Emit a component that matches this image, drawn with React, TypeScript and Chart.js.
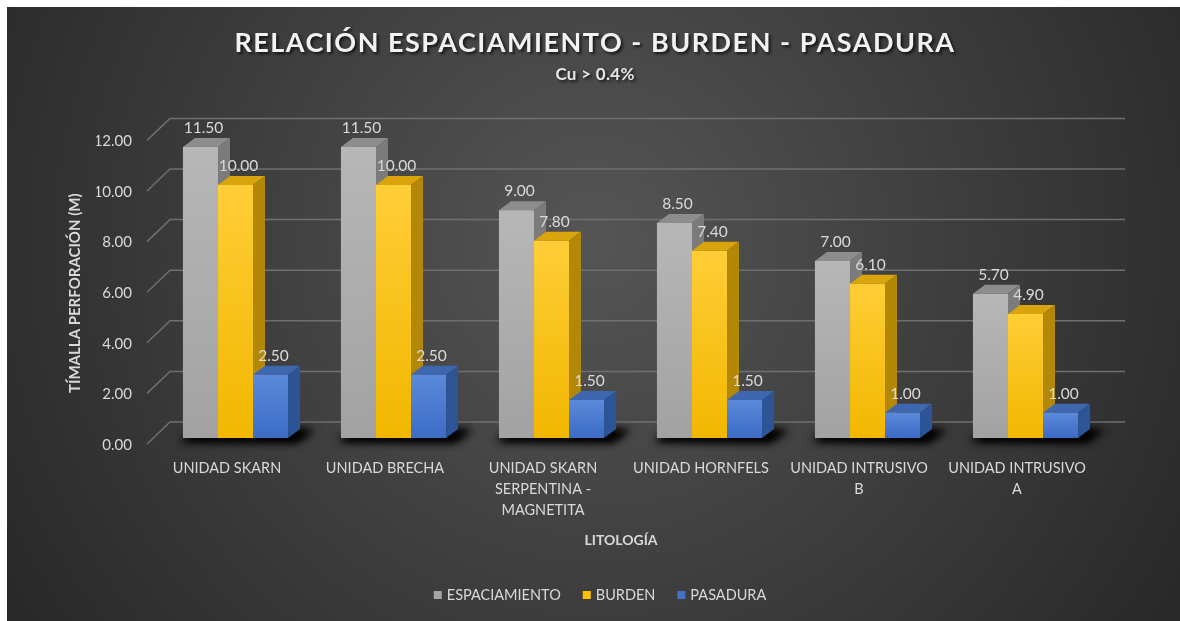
import React, { useEffect, useRef } from 'react';
import { Chart, registerables } from 'chart.js';

Chart.register(...registerables);

// ---------- data ----------
const categories: string[][] = [
  ['UNIDAD SKARN'],
  ['UNIDAD BRECHA'],
  ['UNIDAD SKARN', 'SERPENTINA -', 'MAGNETITA'],
  ['UNIDAD HORNFELS'],
  ['UNIDAD INTRUSIVO', 'B'],
  ['UNIDAD INTRUSIVO', 'A'],
];
const espaciamiento = [11.5, 11.5, 9.0, 8.5, 7.0, 5.7];
const burden = [10.0, 10.0, 7.8, 7.4, 6.1, 4.9];
const pasadura = [2.5, 2.5, 1.5, 1.5, 1.0, 1.0];
const seriesNames = ['ESPACIAMIENTO', 'BURDEN', 'PASADURA'];
const yTicks = [0, 2, 4, 6, 8, 10, 12];

const TITLE = 'RELACIÓN ESPACIAMIENTO - BURDEN - PASADURA';
const SUBTITLE = 'Cu > 0.4%';
const Y_TITLE = 'TÍMALLA PERFORACIÓN (M)';
const X_TITLE = 'LITOLOGÍA';

// ---------- styles ----------
const FONT = 'Lato, "Open Sans", sans-serif';
const TEXT = '#d9d9d9';
const palettes = [
  { base: '#a6a6a6', frontTop: '#b7b7b7', frontBottom: '#a2a2a2', top: '#8d8d8d', side: '#7b7b7b' },
  { base: '#ffc000', frontTop: '#ffcd36', frontBottom: '#f2b700', top: '#d9a40c', side: '#b38806' },
  { base: '#4472c4', frontTop: '#5b8ad9', frontBottom: '#3b6bc6', top: '#3f67b0', side: '#2d5497' },
];
const G = {
  barDX: 12, barDY: -9,
  wallDX: 13.5, wallDY: -16,
  frontDX: -9.5, frontDY: 6,
  wallRightExtra: 20.5,
};

const seriesData = [espaciamiento, burden, pasadura];

const excel3d = {
  id: 'excel3d',
  beforeDraw(chart: any) {
    const { ctx, width, height } = chart;
    ctx.save();
    const cx = width * 0.5, cy = height * 0.38;
    const g = ctx.createRadialGradient(cx, cy, 0, cx, cy, width * 0.62);
    g.addColorStop(0, '#555555');
    g.addColorStop(1, '#262626');
    ctx.fillStyle = g;
    ctx.fillRect(0, 0, width, height);
    ctx.restore();
  },
  beforeDatasetsDraw(chart: any) {
    const { ctx, chartArea: a } = chart;
    const y = chart.scales.y;
    ctx.save();
    ctx.strokeStyle = '#6f6f6f';
    ctx.lineWidth = 1.5;
    for (const v of yTicks) {
      const py = y.getPixelForValue(v);
      ctx.beginPath();
      ctx.moveTo(a.left + G.frontDX, py + G.frontDY);
      ctx.lineTo(a.left + G.wallDX, py + G.wallDY);
      ctx.lineTo(a.right + G.wallRightExtra, py + G.wallDY);
      ctx.stroke();
    }
    // soft floor shadows (only the blurred shadow is visible)
    const m0 = chart.getDatasetMeta(0).data;
    const m2 = chart.getDatasetMeta(2).data;
    const SHIFT = 5000;
    for (let j = 0; j < m0.length; j++) {
      const e0 = m0[j], e2 = m2[j];
      const L = e0.x - e0.width / 2;
      const R = e2.x + e2.width / 2;
      const b = e0.base;
      ctx.save();
      ctx.shadowColor = 'rgba(0,0,0,0.95)';
      ctx.shadowBlur = 9;
      ctx.shadowOffsetX = SHIFT;
      ctx.fillStyle = '#000';
      ctx.beginPath();
      ctx.moveTo(L - 2 - SHIFT, b + 3);
      ctx.lineTo(R + 8 - SHIFT, b + 4);
      ctx.lineTo(R + G.barDX + 14 - SHIFT, b + G.barDY + 1);
      ctx.lineTo(L + G.barDX - SHIFT, b + G.barDY + 1);
      ctx.closePath();
      ctx.fill();
      ctx.fill();
      ctx.restore();
    }
    ctx.restore();
  },
  afterDatasetsDraw(chart: any) {
    const { ctx } = chart;
    const metas = [0, 1, 2].map((i) => chart.getDatasetMeta(i).data);
    ctx.save();
    const n = metas[0].length;
    for (let j = 0; j < n; j++) {
      for (let i = 0; i < 3; i++) {
        const e = metas[i][j];
        const p = palettes[i];
        const l = e.x - e.width / 2, r = e.x + e.width / 2, t = e.y, b = e.base;
        const dx = G.barDX, dy = G.barDY;
        // front
        const fg = ctx.createLinearGradient(0, t, 0, b);
        fg.addColorStop(0, p.frontTop);
        fg.addColorStop(1, p.frontBottom);
        ctx.fillStyle = fg;
        ctx.fillRect(l, t, r - l, b - t);
        // top
        ctx.fillStyle = p.top;
        ctx.beginPath();
        ctx.moveTo(l, t);
        ctx.lineTo(r, t);
        ctx.lineTo(r + dx, t + dy);
        ctx.lineTo(l + dx, t + dy);
        ctx.closePath();
        ctx.fill();
        // side
        ctx.fillStyle = p.side;
        ctx.beginPath();
        ctx.moveTo(r, t);
        ctx.lineTo(r + dx, t + dy);
        ctx.lineTo(r + dx, b + dy);
        ctx.lineTo(r, b);
        ctx.closePath();
        ctx.fill();
      }
    }
    // data labels
    ctx.fillStyle = TEXT;
    ctx.font = `15.5px ${FONT}`;
    ctx.textAlign = 'center';
    ctx.textBaseline = 'middle';
    for (let i = 0; i < 3; i++) {
      metas[i].forEach((e: any, j: number) => {
        ctx.fillText(seriesData[i][j].toFixed(2), e.x + 3, e.y + G.barDY - 10);
      });
    }
    ctx.restore();
  },
  afterDraw(chart: any) {
    const { ctx, chartArea: a } = chart;
    const y = chart.scales.y;
    ctx.save();
    // title
    ctx.textAlign = 'center';
    ctx.textBaseline = 'middle';
    ctx.shadowColor = 'rgba(0,0,0,0.7)';
    ctx.shadowOffsetX = 2;
    ctx.shadowOffsetY = 2;
    ctx.shadowBlur = 3;
    ctx.fillStyle = '#f2f2f2';
    (ctx as any).letterSpacing = '1.5px';
    ctx.font = `bold 27px ${FONT}`;
    ctx.fillText(TITLE, 588, 36);
    (ctx as any).letterSpacing = '0.3px';
    ctx.font = `bold 17px ${FONT}`;
    ctx.fillStyle = '#e6e6e6';
    ctx.fillText(SUBTITLE, 588, 68);
    ctx.shadowColor = 'transparent';
    ctx.shadowOffsetX = 0;
    ctx.shadowOffsetY = 0;
    ctx.shadowBlur = 0;
    (ctx as any).letterSpacing = '0px';
    // axis titles
    ctx.fillStyle = TEXT;
    ctx.font = `bold 15px ${FONT}`;
    const yMid = (y.getPixelForValue(0) + y.getPixelForValue(12)) / 2 + 7;
    ctx.save();
    ctx.translate(68, yMid);
    ctx.rotate(-Math.PI / 2);
    ctx.fillText(Y_TITLE, 0, 0);
    ctx.restore();
    ctx.font = `bold 14px ${FONT}`;
    ctx.fillText(X_TITLE, (a.left + a.right) / 2 + G.frontDX, 533);
    // legend
    ctx.font = `14.5px ${FONT}`;
    ctx.textAlign = 'left';
    const sq = 8, gap = 5, itemGap = 22;
    const widths = seriesNames.map((s) => ctx.measureText(s).width);
    const total = widths.reduce((s, w) => s + sq + gap + w, 0) + itemGap * (seriesNames.length - 1);
    let x = 593 - total / 2;
    const ly = 588;
    seriesNames.forEach((s, i) => {
      ctx.fillStyle = palettes[i].base;
      ctx.fillRect(x, ly - sq / 2, sq, sq);
      ctx.fillStyle = TEXT;
      ctx.fillText(s, x + sq + gap, ly);
      x += sq + gap + widths[i] + itemGap;
    });
    ctx.restore();
  },
};

export default function App() {
  const ref = useRef<HTMLCanvasElement>(null);
  useEffect(() => {
    const canvas = ref.current;
    if (!canvas) return;
    const chart = new Chart(canvas, {
      type: 'bar',
      data: {
        labels: categories,
        datasets: seriesNames.map((name, i) => ({
          label: name,
          data: seriesData[i],
          backgroundColor: palettes[i].base,
          borderWidth: 0,
          categoryPercentage: 0.665,
          barPercentage: 1,
        })),
      },
      options: {
        responsive: false,
        maintainAspectRatio: false,
        animation: false,
        devicePixelRatio: 1,
        layout: { padding: { left: 89.5, right: 75.5, top: 127.4, bottom: 83 } },
        plugins: {
          legend: { display: false },
          title: { display: false },
          tooltip: { enabled: false },
        },
        scales: {
          x: {
            grid: { display: false, drawTicks: false },
            border: { display: false },
            ticks: {
              color: TEXT,
              font: { family: FONT, size: 14.5, lineHeight: 1.45 },
              padding: 20,
              labelOffset: -8.5,
              maxRotation: 0,
              minRotation: 0,
              autoSkip: false,
            },
            afterFit: (s: any) => { s.height = 100; },
          },
          y: {
            min: 0,
            max: 12,
            grid: { display: false, drawTicks: false },
            border: { display: false },
            ticks: {
              stepSize: 2,
              color: TEXT,
              font: { family: FONT, size: 15 },
              padding: 24.5,
              labelOffset: 7,
              callback: (v: any) => Number(v).toFixed(2),
            },
            afterFit: (s: any) => { s.width = 60; },
          },
        },
      } as any,
      plugins: [excel3d],
    });
    return () => chart.destroy();
  }, []);
  return (
    <div style={{ position: 'fixed', left: 7, top: 7, width: 1173, height: 614 }}>
      <canvas ref={ref} width={1173} height={614} style={{ display: 'block', width: 1173, height: 614 }} />
    </div>
  );
}
